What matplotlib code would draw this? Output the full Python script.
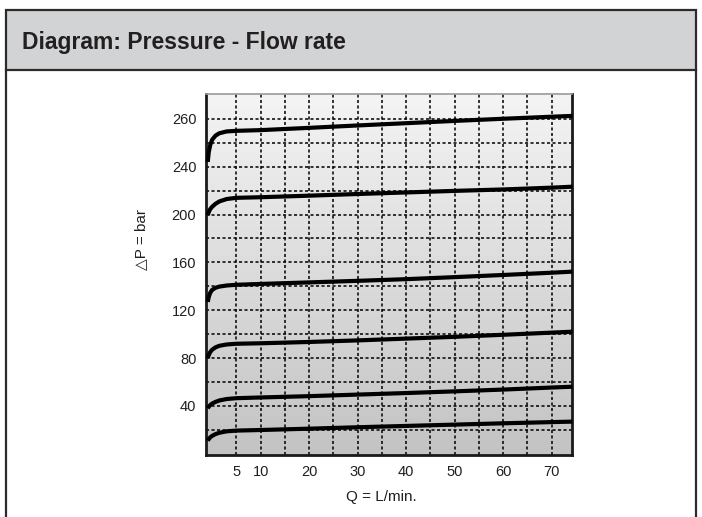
import numpy as np
import matplotlib
matplotlib.use("Agg")
import matplotlib.pyplot as plt
from matplotlib.colors import LinearSegmentedColormap
from matplotlib.patches import Rectangle
from matplotlib.lines import Line2D

plt.rcParams['font.family'] = ['Liberation Sans', 'DejaVu Sans']

# ---- data ----
title = "Diagram: Pressure - Flow rate"
x_label = "Q = L/min."
y_label = "\u25b3P = bar"

x_ticks = [5, 10, 20, 30, 40, 50, 60, 70]
y_ticks = [40, 80, 120, 160, 200, 240, 280]
y_tick_labels = ["40", "80", "120", "160", "200", "240", "260"]

flow = [-0.9, -0.7, -0.4, 0, 0.7, 1.5, 3, 5, 10, 20, 30, 40, 50, 60, 70, 74.3]
curve_1 = [244, 252, 258, 262.5, 266, 268, 269.5, 270, 270.6, 272.5, 274.5, 276.4, 278.3, 280.1, 281.8, 282.5]
curve_2 = [199.5, 202, 204.5, 206.5, 209, 211, 213, 214, 214.5, 215.8, 217.2, 218.5, 219.8, 221, 222.5, 223.3]
curve_3 = [127, 131, 134.5, 137, 138.8, 139.8, 140.7, 141.3, 142, 143.3, 144.6, 146, 147.7, 149.5, 151.4, 152.3]
curve_4 = [80, 82.5, 85, 87, 89, 90.3, 91.4, 92, 92.4, 93.5, 94.8, 96.3, 97.8, 99.5, 101.3, 102.1]
curve_5 = [38, 39.3, 40.7, 42, 43.4, 44.6, 45.8, 46.5, 47.1, 48.2, 49.5, 50.8, 52.2, 53.7, 55.4, 56.1]
curve_6 = [11, 12.3, 13.7, 15, 16.5, 17.6, 18.8, 19.4, 19.9, 21, 22.2, 23.3, 24.4, 25.5, 26.5, 26.9]
curves = [curve_1, curve_2, curve_3, curve_4, curve_5, curve_6]

grid_x = [5, 10, 15, 20, 25, 30, 35, 40, 45, 50, 55, 60, 65, 70]
grid_y = [20, 40, 60, 80, 100, 120, 140, 160, 180, 200, 220, 240, 260, 280]

# ---- figure ----
W, H = 702, 517
fig = plt.figure(figsize=(W / 100, H / 100), dpi=100)
fig.patch.set_facecolor("white")

def px(x, y):
    return x / W, 1 - y / H

# frame with title band
x0, y0 = px(6, 70)
x1, y1 = px(696, 10)
band = Rectangle((x0, y0), x1 - x0, y1 - y0, transform=fig.transFigure,
                 facecolor="#d1d3d5", edgecolor="#2b2b2b", linewidth=1.6, zorder=1)
fig.add_artist(band)
for xx in (6, 696):
    fig.add_artist(Line2D([xx / W, xx / W], [0, y0], transform=fig.transFigure,
                          color="#2b2b2b", linewidth=1.6))
fig.text(22 / W, 1 - 42 / H, title, fontsize=16.5, fontweight="bold",
         color="#231f20", ha="left", va="center")

# axes
ax = fig.add_axes([206 / W, 1 - 455 / H, (572 - 206) / W, (455 - 94) / H])
xlim = (-1.26, 74.2)
ylim = (-1.0, 300.8)
ax.set_xlim(*xlim)
ax.set_ylim(*ylim)

cmap = LinearSegmentedColormap.from_list("bg", ["#c3c3c3", "#f4f4f4"])
grad = np.linspace(0, 1, 256).reshape(-1, 1)
ax.imshow(grad, extent=[xlim[0], xlim[1], ylim[0], ylim[1]], origin="lower",
          cmap=cmap, aspect="auto", zorder=0, interpolation="bilinear")

for gx in grid_x:
    ax.axvline(gx, color="black", lw=1.1, ls=(0, (2, 1.6)), zorder=1)
for gy in grid_y:
    ax.axhline(gy, color="black", lw=1.1, ls=(0, (2, 1.6)), zorder=1)

for c in curves:
    ax.plot(flow, c, color="black", lw=3.0, solid_capstyle="butt", zorder=3, clip_on=False)

ax.set_xticks(x_ticks)
ax.set_xticklabels([str(t) for t in x_ticks])
ax.set_yticks(y_ticks)
ax.set_yticklabels(y_tick_labels)
ax.tick_params(length=0, labelsize=10.5, colors="#231f20")
ax.tick_params(axis="y", pad=7)
ax.tick_params(axis="x", pad=7)

for side in ("left", "bottom", "right"):
    ax.spines[side].set_color("#1a1a1a")
    ax.spines[side].set_linewidth(2.0)
ax.spines["top"].set_color("#9a9a9a")
ax.spines["top"].set_linewidth(1.2)

fig.text(141 / W, 1 - 240 / H, y_label, rotation=90, fontsize=11,
         color="#231f20", ha="center", va="center")
fig.text(381 / W, 1 - 497 / H, x_label, fontsize=11,
         color="#231f20", ha="center", va="center")

fig.savefig("out.png", dpi=100)
